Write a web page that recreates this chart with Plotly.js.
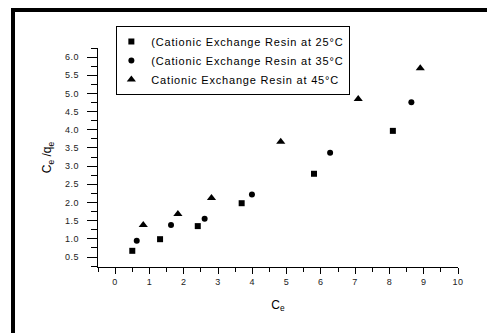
<!DOCTYPE html>
<html>
<head>
<meta charset="utf-8">
<script src="https://cdn.plot.ly/plotly-3.0.1.min.js"></script>
<style>
  html, body { margin: 0; padding: 0; background: #fff; }
  #chart { width: 487px; height: 333px; }
  .legendtext { letter-spacing: 0.8px; }
  .xtick text, .ytick text { letter-spacing: 0.6px; }
</style>
</head>
<body>
<div id="chart"></div>
<script>
// Data
const seriesNames = [
  "(Cationic Exchange Resin at 25°C",
  "(Cationic Exchange Resin at 35°C",
  "Cationic Exchange Resin at 45°C"
];
const ce25 = [0.50, 1.31, 2.41, 3.69, 5.80, 8.10];
const ratio25 = [0.67, 0.99, 1.35, 1.98, 2.79, 3.97];
const ce35 = [0.63, 1.63, 2.61, 3.99, 6.27, 8.64];
const ratio35 = [0.95, 1.38, 1.55, 2.22, 3.37, 4.76];
const ce45 = [0.82, 1.83, 2.81, 4.83, 7.09, 8.90];
const ratio45 = [1.38, 1.68, 2.12, 3.67, 4.85, 5.69];
const xTickVals = [0, 1, 2, 3, 4, 5, 6, 7, 8, 9, 10];
const yTickVals = [0.5, 1.0, 1.5, 2.0, 2.5, 3.0, 3.5, 4.0, 4.5, 5.0, 5.5, 6.0];

const FONT = "Arial, 'Liberation Sans', sans-serif";

const traces = [
  {x: ce25, y: ratio25, name: seriesNames[0], mode: "markers", type: "scatter",
   marker: {symbol: "square", size: 6, color: "#000"}},
  {x: ce35, y: ratio35, name: seriesNames[1], mode: "markers", type: "scatter",
   marker: {symbol: "circle", size: 6, color: "#000"}},
  {x: ce45, y: ratio45, name: seriesNames[2], mode: "markers", type: "scatter",
   marker: {symbol: "triangle-up", size: 8, color: "#000"}}
];

const layout = {
  width: 487, height: 333,
  margin: {l: 98, r: 29, t: 48, b: 66, pad: 0},
  paper_bgcolor: "#fff", plot_bgcolor: "#fff",
  font: {family: FONT, color: "#000"},
  showlegend: true,
  legend: {
    x: 0.051, y: 1.10, xanchor: "left", yanchor: "top",
    bgcolor: "#fff", bordercolor: "#000", borderwidth: 1,
    font: {family: FONT, size: 11, color: "#000"},
    itemwidth: 30, indentation: -6
  },
  xaxis: {
    range: [-0.5, 10], showgrid: false, zeroline: false,
    showline: true, linecolor: "#000", linewidth: 1,
    ticks: "outside", ticklen: 6, tickwidth: 1, tickcolor: "#000",
    tickvals: xTickVals, ticktext: xTickVals.map(String),
    tickfont: {family: FONT, size: 9, color: "#222"},
    minor: {dtick: 0.5, tick0: -0.5, ticks: "outside", ticklen: 4, tickcolor: "#000", showgrid: false},
    title: {text: "C<sub>e</sub>", font: {family: FONT, size: 12, color: "#000"}, standoff: 14}
  },
  yaxis: {
    range: [0.225, 6.25], showgrid: false, zeroline: false,
    showline: true, linecolor: "#000", linewidth: 1,
    ticks: "outside", ticklen: 10, tickwidth: 1, tickcolor: "#000",
    ticklabelstandoff: 6,
    tickvals: yTickVals, ticktext: yTickVals.map(v => v.toFixed(1)),
    tickfont: {family: FONT, size: 9, color: "#222"},
    minor: {dtick: 0.25, tick0: 0.25, ticks: "outside", ticklen: 6, tickcolor: "#000", showgrid: false},
    title: {text: "C<sub>e</sub> /q<sub>e</sub>", font: {family: FONT, size: 12, color: "#000"}, standoff: 10}
  },
  shapes: [
    {type: "path", xref: "paper", yref: "paper",
     path: "M -0.2361 -0.40 L -0.2361 1.1735 L 1.10 1.1735",
     line: {color: "#000", width: 4}, layer: "above"}
  ]
};

Plotly.newPlot("chart", traces, layout, {staticPlot: true, displayModeBar: false});
</script>
</body>
</html>
